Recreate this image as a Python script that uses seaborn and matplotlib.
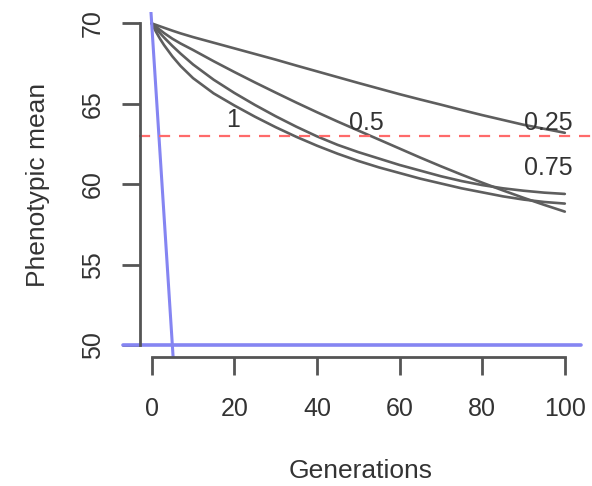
import numpy as np
import pandas as pd
import matplotlib
matplotlib.use("Agg")
import matplotlib.pyplot as plt
import seaborn as sns

# values
generations = [0, 1, 2, 3, 5, 7, 10, 15, 20, 25, 30, 35, 40, 45, 50,
               55, 60, 65, 70, 75, 80, 85, 90, 95, 100]
mean_025 = [70, 69.91, 69.82, 69.73, 69.55, 69.38, 69.15, 68.8, 68.45, 68.1, 67.75,
            67.38, 67.02, 66.66, 66.3, 65.95, 65.6, 65.27, 64.95, 64.62, 64.3,
            64.0, 63.7, 63.45, 63.2]
mean_05 = [70, 69.8, 69.6, 69.4, 69.05, 68.75, 68.35, 67.65, 66.98, 66.33, 65.7,
           65.08, 64.48, 63.9, 63.34, 62.78, 62.22, 61.66, 61.12, 60.6, 60.1,
           59.62, 59.16, 58.72, 58.3]
mean_075 = [70, 69.7, 69.4, 69.12, 68.6, 68.12, 67.45, 66.5, 65.68, 64.93, 64.23,
            63.58, 62.98, 62.45, 62.0, 61.6, 61.2, 60.85, 60.5, 60.2, 59.95,
            59.75, 59.6, 59.48, 59.4]
mean_1 = [70, 69.5, 69.05, 68.65, 67.95, 67.35, 66.6, 65.65, 64.9, 64.2, 63.55,
          62.95, 62.4, 61.9, 61.45, 61.05, 60.7, 60.35, 60.05, 59.75, 59.5,
          59.25, 59.05, 58.9, 58.8]
curve_params = ["0.25", "0.5", "0.75", "1"]

label_x = [96, 52, 96, 19.6]
label_y = [63.8, 63.8, 61.0, 64.0]

blue_gen = [0, 5]
blue_mean = [70, 50]
floor_mean = 50
threshold = 63

df = pd.DataFrame({
    "gen": generations * 4,
    "mean": mean_025 + mean_05 + mean_075 + mean_1,
    "param": sum([[p] * len(generations) for p in curve_params], []),
})

sns.set_style("ticks")
plt.rcParams["font.family"] = ["Liberation Sans", "DejaVu Sans"]

fig = plt.figure(figsize=(5.92, 4.86), dpi=100)
ax = fig.add_axes([0.236, 0.265, 0.746, 0.71])

sns.lineplot(data=df, x="gen", y="mean", hue="param", units="param",
             palette=["#5e5e5e"] * 4, estimator=None, lw=1.9, legend=False, ax=ax)

# blue lines
ax.axline((blue_gen[0], blue_mean[0]), (blue_gen[1], blue_mean[1]), color="#8585f2", lw=2.2)
ax.plot([-7, 104], [floor_mean, floor_mean], color="#8585f2", lw=2.6, clip_on=False)
# red dashed threshold
ax.plot([-3, 106.5], [threshold, threshold], color="#ff6a6a", lw=1.6,
        ls=(0, (5, 4)), clip_on=False)

for lab, lx, ly in zip(curve_params, label_x, label_y):
    ax.text(lx, ly, lab, fontsize=18, color="#333333", ha="center", va="center")

ax.set_xlim(-2.9, 104)
ax.set_ylim(49.25, 70.7)
ax.set_xticks([0, 20, 40, 60, 80, 100])
ax.set_yticks([50, 55, 60, 65, 70])
ax.set_yticklabels(["50", "55", "60", "65", "70"], rotation=90, va="center")

for s in ["top", "right"]:
    ax.spines[s].set_visible(False)
ax.spines["left"].set_bounds(50, 70)
ax.spines["bottom"].set_bounds(0, 100)
for s in ["left", "bottom"]:
    ax.spines[s].set_color("#555555")
    ax.spines[s].set_linewidth(2)

ax.tick_params(axis="both", direction="out", length=13, width=2, color="#555555",
               labelsize=18, labelcolor="#333333", bottom=True, left=True)
ax.tick_params(axis="x", pad=16)
ax.tick_params(axis="y", pad=12)
ax.set_xlabel("Generations", fontsize=19, color="#333333", labelpad=27)
ax.set_ylabel("Phenotypic mean", fontsize=19, color="#333333", labelpad=22)

fig.savefig("out.png", dpi=100)
